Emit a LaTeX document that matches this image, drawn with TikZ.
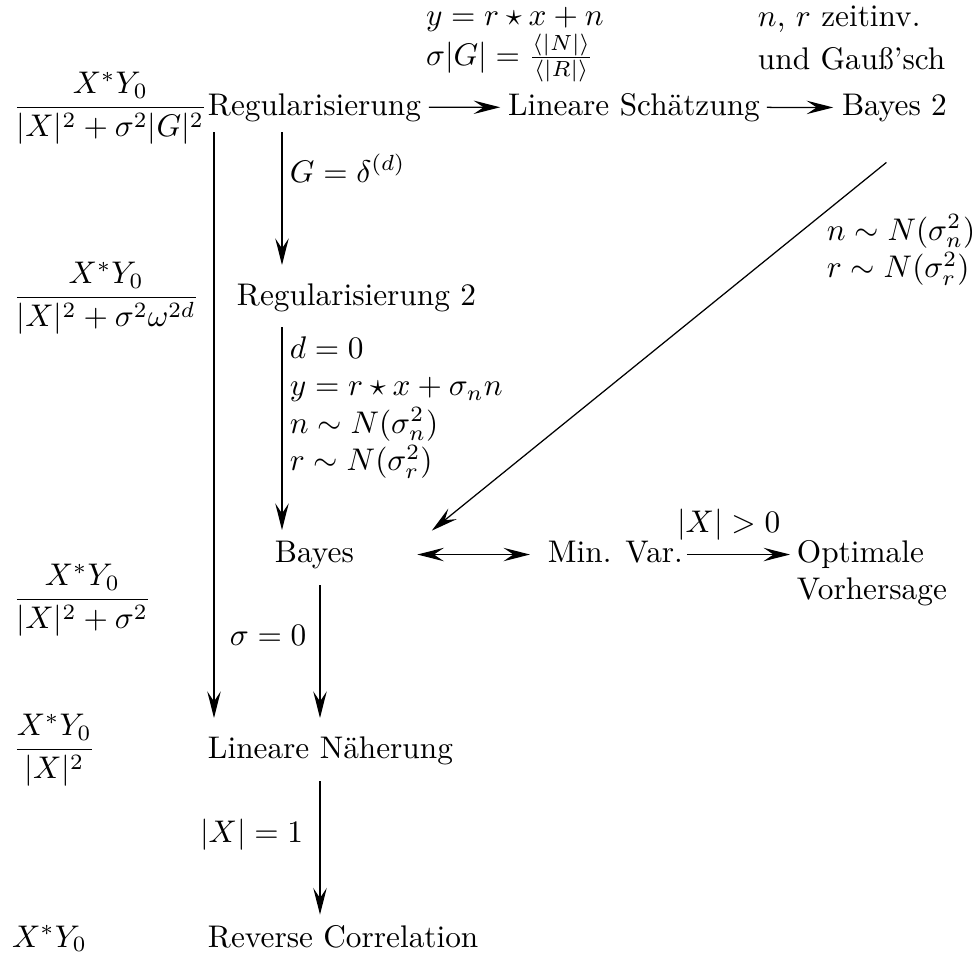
\documentclass[tikz,border=0pt]{standalone}
\usepackage{fontspec}
\usepackage{amsmath}
\usetikzlibrary{arrows.meta}
\begin{document}
\begin{tikzpicture}[x=0.3195pt,y=-0.3195pt,
  txt/.style={anchor=base west,inner sep=0pt,outer sep=0pt},
  arr/.style={-{Stealth[length=8.5pt,width=4.3pt,inset=3.2pt]},line width=0.4pt},
  darr/.style={{Stealth[length=8.5pt,width=4.3pt,inset=3.2pt]}-{Stealth[length=8.5pt,width=4.3pt,inset=3.2pt]},line width=0.4pt}]
\useasboundingbox (0,0) rectangle (973,955);

% left column formulas
\node[txt] (f1) at (13,115) {$\displaystyle\frac{X^*Y_0}{|X|^2+\sigma^2|G|^2}$};
\node[txt] (f2) at (13,305) {$\displaystyle\frac{X^*Y_0}{|X|^2+\sigma^2\omega^{2d}}$};
\node[txt] (f3) at (13,607) {$\displaystyle\frac{X^*Y_0}{|X|^2+\sigma^2}$};
\node[txt] (f4) at (13,757) {$\displaystyle\frac{X^*Y_0}{|X|^2}$};
\node[txt] (f5) at (12,947) {$X^*Y_0$};

% main nodes
\node[txt] (reg) at (208,115) {Regularisierung};
\node[txt] (ls) at (508,115) {Lineare Schätzung};
\node[txt] (b2) at (842,115) {Bayes 2};
\node[txt] (reg2) at (237,305) {Regularisierung 2};
\node[txt] (bayes) at (275,562) {Bayes};
\node[txt] (mv) at (548,562) {Min. Var.};
\node[txt] (opt) at (797,562) {\begin{tabular}[t]{@{}l@{}}Optimale\\Vorhersage\end{tabular}};
\node[txt] (ln) at (208,758) {Lineare Näherung};
\node[txt] (rc) at (208,947) {Reverse Correlation};

% labels
\node[txt] (l1) at (426,25) {$\begin{array}[t]{@{}l@{}}y=r\star x+n\\[-0.8pt]\sigma|G|=\frac{\langle|N|\rangle}{\langle|R|\rangle}\end{array}$};
\node[txt] (l2) at (758,26) {\begin{tabular}[t]{@{}l@{}}$n$, $r$ zeitinv.\\[2pt]und Gauß'sch\end{tabular}};
\node[txt] (lG) at (290,182) {$G=\delta^{(d)}$};
\node[txt] (ld) at (290,358) {$\begin{array}[t]{@{}l@{}}d=0\\ y=r\star x+\sigma_n n\\ n\sim N(\sigma_n^2)\\ r\sim N(\sigma_r^2)\end{array}$};
\node[txt] (lnr) at (827,240) {$\begin{array}[t]{@{}l@{}}n\sim N(\sigma_n^2)\\ r\sim N(\sigma_r^2)\end{array}$};
\node[txt] (ls0) at (230,645) {$\sigma=0$};
\node[txt] (lx1) at (200,842) {$|X|=1$};
\node[txt] (lx0) at (677,532) {$|X|>0$};

% columns for vertical arrows
\coordinate (xL) at (214,0);
\coordinate (xM) at (282,0);
\coordinate (xB) at (320,0);

% arrows
\draw[arr,shorten <=2.5pt,shorten >=2.5pt] (reg) -- (ls);
\draw[arr,shorten <=2.3pt,shorten >=2.8pt] (ls) -- (b2);
\draw[arr,shorten <=3.5pt,shorten >=5.85pt] (reg.south -| xL) -- (ln.north -| xL);
\draw[arr,shorten <=3.5pt,shorten >=5.85pt] (reg.south -| xM) -- (reg2.north -| xM);
\draw[arr,shorten <=5.1pt,shorten >=3.4pt] (reg2.south -| xM) -- (bayes.north -| xM);
\draw[arr,shorten <=5.4pt,shorten >=5.85pt] (bayes.south -| xB) -- (ln.north -| xB);
\draw[arr,shorten <=5.4pt,shorten >=3.3pt] (ln.south -| xB) -- (rc.north -| xB);
\draw[arr] ([shift={(-8,41)}]b2.south) -- ([shift={(78,-10)}]bayes.north east);
\draw[darr,shorten <=20.3pt,shorten >=5.75pt] (bayes.east) -- (bayes.east -| mv.west);
\draw[arr,shorten <=1.3pt,shorten >=2.2pt] (bayes.east -| mv.east) -- (bayes.east -| opt.west);
\end{tikzpicture}
\end{document}
